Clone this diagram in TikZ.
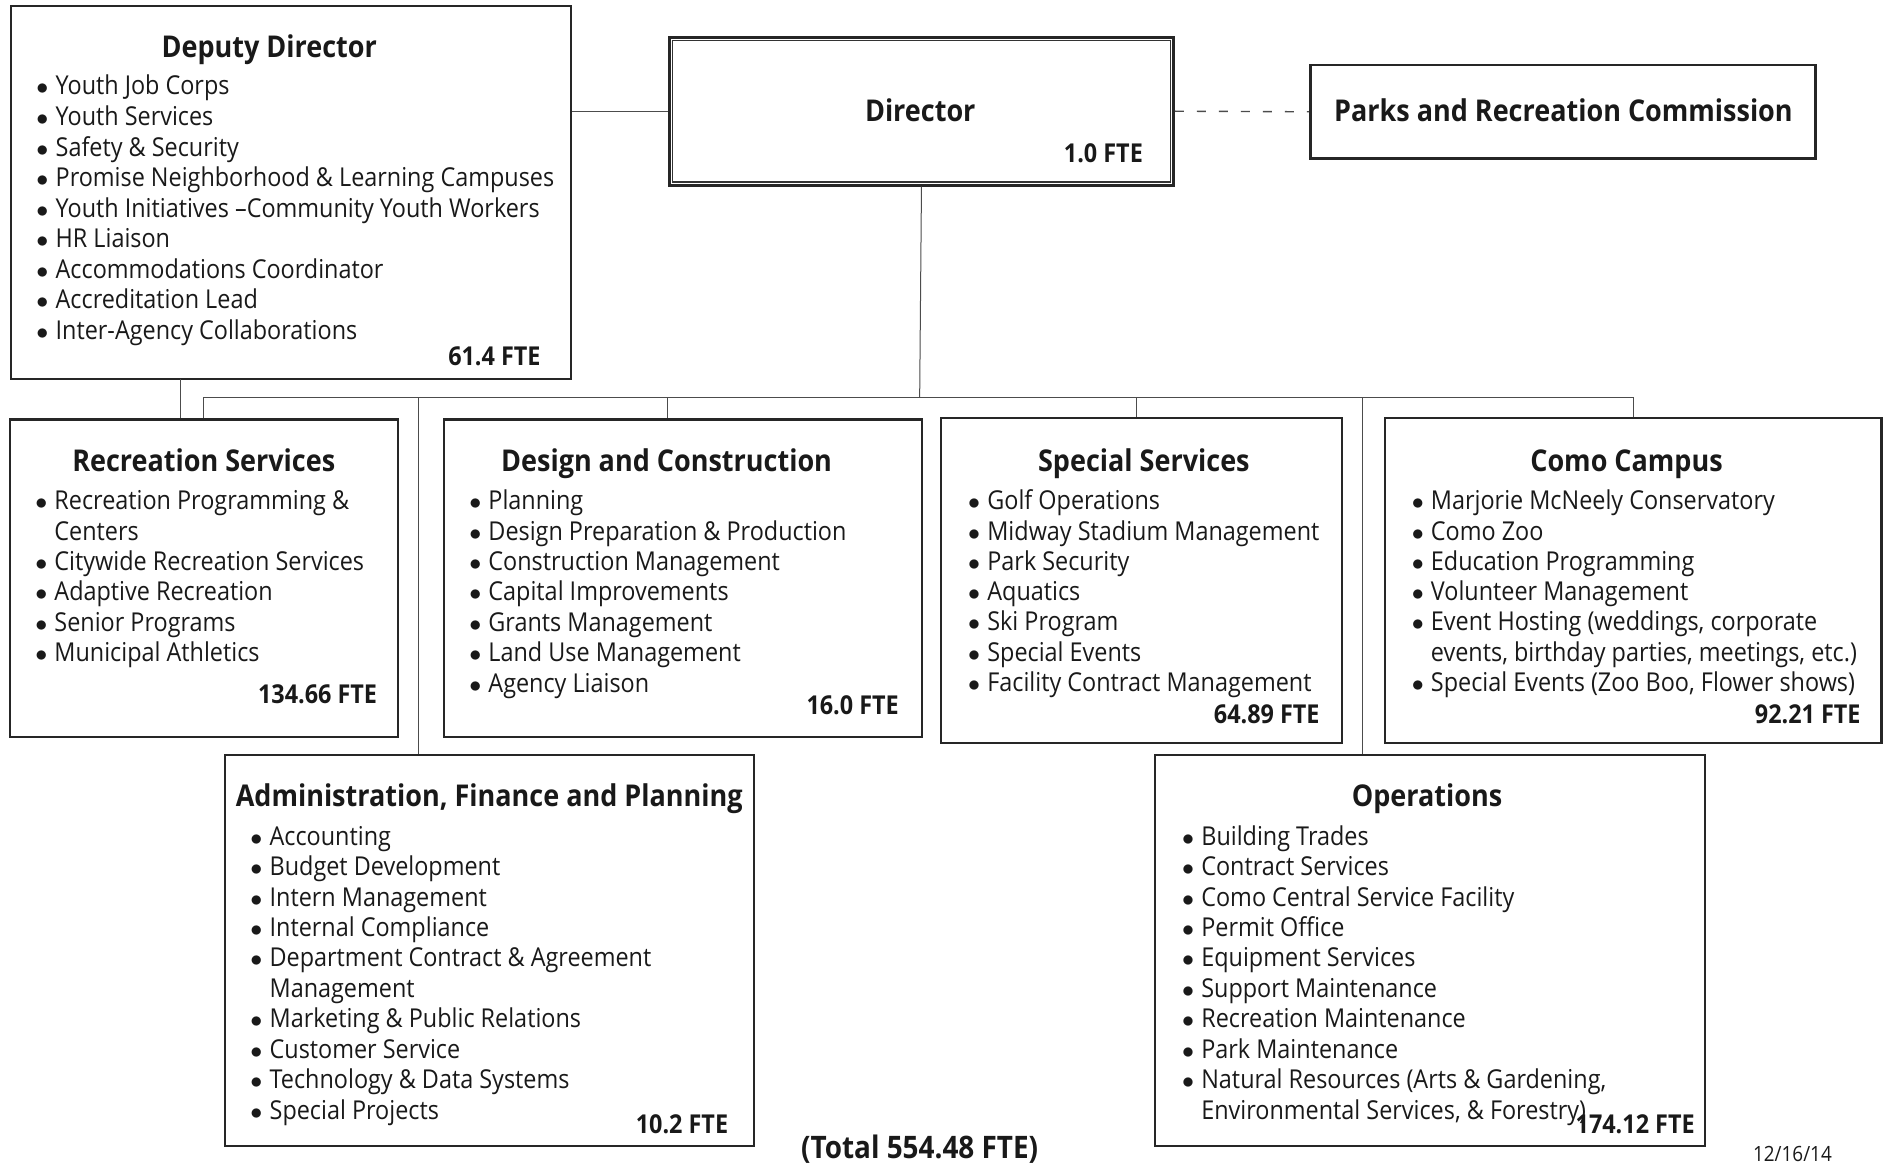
\documentclass[tikz,border=0pt]{standalone}
\usepackage{fontspec}
\setmainfont{Open Sans}[FakeStretch=0.9]
\usetikzlibrary{fit, calc}

\newcommand{\dotitem}{\makebox[9.6pt][l]{$\bullet$}}
\newcommand{\contitem}{\hspace*{9.6pt}}

\tikzset{
  orgbox/.style={draw=black!85, line width=1.1pt, inner sep=0pt},
  conn/.style={draw=black!70, line width=0.5pt},
  boxtitle/.style={font=\fontsize{15}{18}\selectfont\bfseries, anchor=base, inner sep=0pt, text=black!90},
  entry/.style={font=\fontsize{13}{15}\selectfont, anchor=base west, inner sep=0pt, text=black!90},
  fte/.style={font=\fontsize{13}{15}\selectfont\bfseries, anchor=base east, inner sep=0pt, text=black!90},
}

\begin{document}
\begin{tikzpicture}[x=0.6011pt, y=-0.6011pt]
  \useasboundingbox (0,0) rectangle (1568,971);

  % Boxes
  \node[orgbox, fit={(9,5) (475,315)}] (deputy) {};
  \node[orgbox, line width=1.6pt, fit={(557,31) (976,154)}] (director) {};
  \draw[black!80, line width=0.6pt] ([shift={(4,4)}]director.north west) rectangle ([shift={(-4,-4)}]director.south east);
  \node[orgbox, line width=1.3pt, fit={(1090,54) (1510,132)}] (commission) {};
  \node[orgbox, fit={(8,349) (331,613)}] (rec) {};
  \node[orgbox, fit={(369,349) (767,613)}] (design) {};
  \node[orgbox, fit={(783,348) (1116,618)}] (special) {};
  \node[orgbox, fit={(1152,348) (1565,618)}] (como) {};
  \node[orgbox, fit={(187,628) (627,953)}] (admin) {};
  \node[orgbox, fit={(961,628) (1418,953)}] (ops) {};

  % Connectors
  \coordinate (bus) at (765,331);
  \coordinate (deptap) at (150,315);
  \coordinate (dsgtap) at (555,331);
  \coordinate (sptap) at (945,331);
  \coordinate (admtap) at (348,331);
  \coordinate (opstap) at (1133,331);
  \draw[conn] (director.west -| deputy.east) -- (director.west);
  \draw[conn, line width=0.7pt, dash pattern=on 4.5pt off 6.5pt] (director.east) -- (commission.west);
  \draw[conn] (director.south) -- (bus);
  \draw[conn] (rec.north) -- (rec.north |- bus) -- (como.north |- bus) -- (como.north);
  \draw[conn] (dsgtap) -- (dsgtap |- design.north);
  \draw[conn] (sptap) -- (sptap |- special.north);
  \draw[conn] (admtap) -- (admtap |- admin.north);
  \draw[conn] (opstap) -- (opstap |- ops.north);
  \draw[conn] (deptap) -- (deptap |- rec.north);

  % Titles
  \node[boxtitle] (deputy-t) at (224,48) {Deputy Director};
  \node[boxtitle] (director-t) at (765.5,101) {Director};
  \node[boxtitle] (commission-t) at (1300.5,101) {Parks and Recreation Commission};
  \node[boxtitle] (rec-t) at (169.5,392) {Recreation Services};
  \node[boxtitle] (design-t) at (554.5,392) {Design and Construction};
  \node[boxtitle] (special-t) at (951.5,392) {Special Services};
  \node[boxtitle] (como-t) at (1353,392) {Como Campus};
  \node[boxtitle] (admin-t) at (407,671) {Administration, Finance and Planning};
  \node[boxtitle] (ops-t) at (1187,671) {Operations};

  % Duties
  \foreach \t [count=\i from 0] in {\dotitem Youth Job Corps, \dotitem Youth Services,
      \dotitem Safety \& Security, \dotitem Promise Neighborhood \& Learning Campuses,
      \dotitem Youth Initiatives –Community Youth Workers, \dotitem HR Liaison,
      \dotitem Accommodations Coordinator, \dotitem Accreditation Lead,
      \dotitem Inter-Agency Collaborations}
    \node[entry] (deputy-\i) at (30, 79+25.4*\i) {\t};
  \foreach \t [count=\i from 0] in {\dotitem Recreation Programming \&, \contitem Centers,
      \dotitem Citywide Recreation Services, \dotitem Adaptive Recreation,
      \dotitem Senior Programs, \dotitem Municipal Athletics}
    \node[entry] (rec-\i) at (29, 424+25.3*\i) {\t};
  \foreach \t [count=\i from 0] in {\dotitem Planning, \dotitem Design Preparation \& Production,
      \dotitem Construction Management, \dotitem Capital Improvements,
      \dotitem Grants Management, \dotitem Land Use Management, \dotitem Agency Liaison}
    \node[entry] (design-\i) at (390, 424+25.3*\i) {\t};
  \foreach \t [count=\i from 0] in {\dotitem Golf Operations, \dotitem Midway Stadium Management,
      \dotitem Park Security, \dotitem Aquatics, \dotitem Ski Program,
      \dotitem Special Events, \dotitem Facility Contract Management}
    \node[entry] (special-\i) at (805, 424+25.2*\i) {\t};
  \foreach \t [count=\i from 0] in {\dotitem Marjorie McNeely Conservatory, \dotitem Como Zoo,
      \dotitem Education Programming, \dotitem Volunteer Management,
      {\dotitem Event Hosting (weddings, corporate},
      {\contitem events, birthday parties, meetings, etc.)},
      {\dotitem Special Events (Zoo Boo, Flower shows)}}
    \node[entry] (como-\i) at (1174, 424+25.2*\i) {\t};
  \foreach \t [count=\i from 0] in {\dotitem Accounting, \dotitem Budget Development,
      \dotitem Intern Management, \dotitem Internal Compliance,
      \dotitem Department Contract \& Agreement, \contitem Management,
      \dotitem Marketing \& Public Relations, \dotitem Customer Service,
      \dotitem Technology \& Data Systems, \dotitem Special Projects}
    \node[entry] (admin-\i) at (208, 703+25.33*\i) {\t};
  \foreach \t [count=\i from 0] in {\dotitem Building Trades, \dotitem Contract Services,
      \dotitem Como Central Service Facility, \dotitem Permit Office,
      \dotitem Equipment Services, \dotitem Support Maintenance,
      \dotitem Recreation Maintenance, \dotitem Park Maintenance,
      {\dotitem Natural Resources (Arts \& Gardening,},
      {\contitem Environmental Services, \& Forestry)}}
    \node[entry] (ops-\i) at (983, 703+25.33*\i) {\t};

  % FTE counts
  \node[fte] (deputy-f) at (450,304) {61.4 FTE};
  \node[fte] (director-f) at (951,135) {1.0 FTE};
  \node[fte] (rec-f) at (314,585) {134.66 FTE};
  \node[fte] (design-f) at (748,594) {16.0 FTE};
  \node[fte] (special-f) at (1098,602) {64.89 FTE};
  \node[fte] (como-f) at (1548,602) {92.21 FTE};
  \node[fte] (admin-f) at (606,943) {10.2 FTE};
  \node[fte] (ops-f) at (1410,943) {174.12 FTE};

  \node[boxtitle, font=\fontsize{15.5}{18}\selectfont\bfseries] (total) at (765,964) {(Total 554.48 FTE)};
  \node[entry, anchor=base, font=\fontsize{10.5}{12}\selectfont] (date) at (1491,966) {12/16/14};
\end{tikzpicture}
\end{document}
